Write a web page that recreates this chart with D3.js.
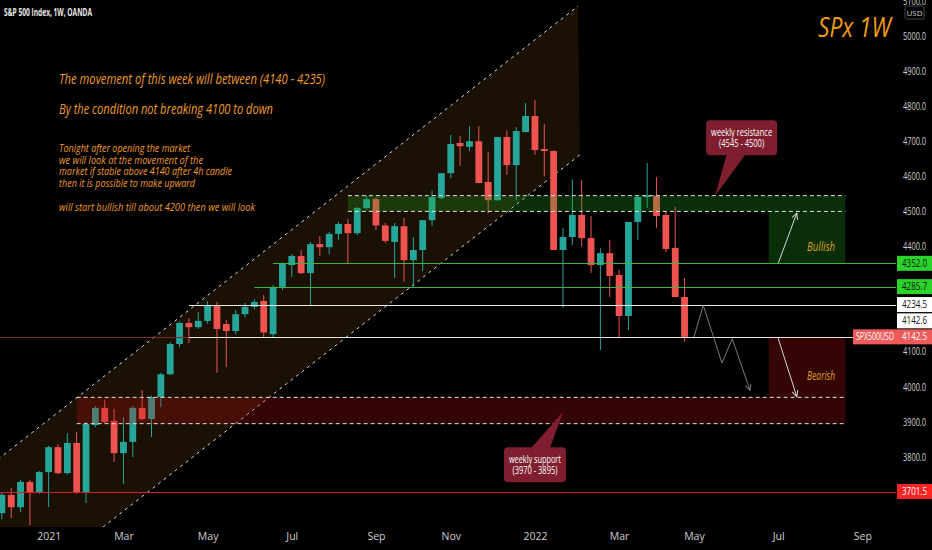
<!DOCTYPE html>
<html>
<head>
<meta charset="utf-8">
<script src="https://cdn.jsdelivr.net/npm/d3@7"></script>
<style>
  html, body { margin: 0; padding: 0; background: #000; }
  svg { display: block; }
</style>
</head>
<body>
<div id="chart"></div>
<script>
// weekly bars of SPX500USD, bar 0 = week of 30 Nov 2020
// [open, high, low, close]
const ohlc = [
  [3640, 3700, 3622, 3692], [3692, 3712, 3626, 3657], [3657, 3735, 3643, 3729], [3729, 3735, 3606, 3700],
  [3700, 3760, 3695, 3757], [3757, 3832, 3657, 3828], [3828, 3836, 3750, 3754], [3754, 3868, 3750, 3840],
  [3840, 3871, 3695, 3700], [3700, 3900, 3669, 3894], [3891, 3945, 3885, 3940], [3940, 3962, 3895, 3900],
  [3903, 3937, 3786, 3811], [3811, 3914, 3723, 3843], [3843, 3945, 3800, 3940], [3940, 3991, 3905, 3908],
  [3908, 3975, 3857, 3971], [3971, 4040, 3942, 4036], [4036, 4128, 4033, 4122], [4122, 4186, 4113, 4182],
  [4182, 4196, 4125, 4170], [4170, 4213, 4165, 4188], [4188, 4245, 4180, 4233], [4233, 4242, 4040, 4165],
  [4179, 4190, 4056, 4159], [4159, 4219, 4150, 4207], [4207, 4239, 4198, 4228], [4228, 4250, 4220, 4242],
  [4245, 4262, 4140, 4155], [4150, 4290, 4142, 4285], [4285, 4355, 4276, 4350], [4347, 4378, 4313, 4373],
  [4373, 4390, 4322, 4324], [4324, 4413, 4233, 4407], [4407, 4430, 4373, 4398], [4398, 4442, 4378, 4436],
  [4436, 4470, 4418, 4464], [4464, 4479, 4353, 4438], [4438, 4512, 4432, 4510], [4510, 4545, 4505, 4535],
  [4535, 4540, 4447, 4460], [4460, 4467, 4410, 4416], [4413, 4467, 4310, 4458], [4458, 4481, 4300, 4361],
  [4361, 4427, 4282, 4390], [4390, 4475, 4330, 4475], [4475, 4560, 4459, 4541], [4538, 4608, 4535, 4609],
  [4609, 4718, 4595, 4692], [4695, 4715, 4630, 4686], [4684, 4743, 4672, 4700], [4700, 4743, 4580, 4581],
  [4584, 4670, 4495, 4532], [4532, 4713, 4530, 4712], [4712, 4731, 4604, 4632], [4632, 4740, 4531, 4729],
  [4726, 4809, 4726, 4772], [4772, 4818, 4661, 4675], [4678, 4750, 4600, 4672], [4672, 4674, 4390, 4390],
  [4390, 4453, 4225, 4427], [4427, 4592, 4404, 4490], [4490, 4590, 4400, 4424], [4424, 4487, 4325, 4347],
  [4347, 4395, 4105, 4381], [4381, 4418, 4256, 4316], [4319, 4333, 4139, 4202], [4202, 4470, 4162, 4470],
  [4470, 4545, 4418, 4541], [4541, 4638, 4510, 4546], [4545, 4598, 4453, 4487], [4490, 4500, 4384, 4393],
  [4396, 4513, 4256, 4256], [4256, 4310, 4128, 4142.5],
];

const xTickWeeks = [5, 13, 22, 31, 40, 48, 57, 66, 74, 83, 92];
const xTickLabels = ['2021', 'Mar', 'May', 'Jul', 'Sep', 'Nov', '2022', 'Mar', 'May', 'Jul', 'Sep'];
const yTicks = [3800, 3900, 4000, 4100, 4400, 4500, 4600, 4700, 4800, 4900, 5000, 5100];

// rising channel rails, [week, price]
const channelUpper = [[-0.4, 3794], [61.6, 5085]];
const channelLower = [[-0.4, 3367], [61.8, 4661]];

// supply / demand zones and target boxes
const zones = [
  { top: 4545, bottom: 4500, from: 37, to: 90.2, kind: 'bull' },
  { top: 3970, bottom: 3895, from: 8, to: 90.2, kind: 'bear' },
];
const targets = [
  { label: 'Bullish', top: 4500, bottom: 4352, from: 82, to: 90.2, kind: 'bull', textAt: [87.6, 4387] },
  { label: 'Bearish', top: 4142.5, bottom: 3970, from: 82, to: 90.2, kind: 'bear', textAt: [87.6, 4019] },
];

// horizontal levels
const levels = [
  { value: 4352.0, from: 29, kind: 'green' },
  { value: 4285.7, from: 27, kind: 'green' },
  { value: 4234.5, from: 20, kind: 'white' },
  { value: 4142.6, from: 20, kind: 'white' },
  { value: 3701.5, from: -1, kind: 'red' },
];
const lastPrice = 4142.5;
const symbol = 'SPX500USD';

// expected path and direction arrows, [week, price]
const projection = [[74, 4142], [75, 4232], [77, 4068], [78.1, 4137], [80, 3990]];
const bullArrow = [[83, 4351], [85, 4495]];
const bearArrow = [[83, 4139], [85, 3972]];

const callouts = [
  { lines: ['weekly resistance', '(4545 - 4500)'], at: [79.1, 4710], tip: [76.25, 4544], side: 'below' },
  { lines: ['weekly support', '(3970 - 3895)'], at: [57.0, 3778], tip: [60.0, 3928], side: 'above' },
];

const headline = [
  'The movement of this week will between (4140 - 4235)',
  'By the condition not breaking 4100 to down',
];
const planLines = [
  'Tonight after opening the market',
  'we will look at the movement of the',
  'market if stable above 4140 after 4h candle',
  'then it is possible to make upward',
  '',
  'will start bullish till about 4200 then we will look',
];

const COLORS = {
  up: '#26a69a',
  down: '#ef5350',
  note: '#ee9a26',
  zone: { bull: 'rgba(34, 170, 34, 0.27)', bear: 'rgba(190, 18, 18, 0.28)' },
  level: { green: '#3fb24a', white: '#e6e6e6', red: '#d42020' },
  tag: { green: '#2bd42b', white: '#ffffff', red: '#ff2424' },
  axis: '#cfcfcf',
};

const NARROW = "'Liberation Sans Narrow', 'Open Sans', 'Noto Sans', sans-serif";

class WeeklyChart {
  constructor(selector) {
    this.selector = selector;
    this.width = 932;
    this.height = 550;
    this.plotW = 896;
    this.plotH = 527;
    this.barSpacing = 9.352;
    this.svg = null;
    this.scales = { x: null, y: null };
  }

  draw() {
    return this
      .setUpSVG()
      .setUpScales()
      .drawChannel()
      .drawCandles()
      .drawZones()
      .drawLevels()
      .drawProjection()
      .drawNotes()
      .drawCallouts()
      .drawAxes()
      .drawPriceTags();
  }

  setUpSVG() {
    this.svg = d3.select(this.selector)
      .append('svg')
      .attr('width', this.width)
      .attr('height', this.height)
      .style('background', '#000');

    const defs = this.svg.append('defs');
    defs.append('clipPath')
      .attr('id', 'plot-clip')
      .append('rect')
      .attr('width', this.plotW)
      .attr('height', this.plotH);

    [['arrow-grey', '#777'], ['arrow-light', '#d8d8d8']].forEach(([id, c]) => {
      defs.append('marker')
        .attr('id', id)
        .attr('viewBox', '0 0 8 8')
        .attr('refX', 7)
        .attr('refY', 4)
        .attr('markerWidth', 8)
        .attr('markerHeight', 8)
        .attr('markerUnits', 'userSpaceOnUse')
        .attr('orient', 'auto')
        .append('path')
        .attr('d', 'M1,1 L7,4 L1,7')
        .attr('fill', 'none')
        .attr('stroke', c)
        .attr('stroke-width', 1);
    });

    this.plot = this.svg.append('g').attr('clip-path', 'url(#plot-clip)');
    return this;
  }

  setUpScales() {
    this.scales.x = d3.scaleLinear()
      .domain([-0.2, 95.5])
      .range([0, 95.7 * this.barSpacing]);

    this.scales.y = d3.scaleLinear()
      .domain([3800, 5000])
      .range([457, 36]);

    return this;
  }

  pt([i, p]) {
    return [this.scales.x(i), this.scales.y(p)];
  }

  drawChannel() {
    const poly = [...channelUpper, ...channelLower.slice().reverse()].map((d) => this.pt(d));

    this.plot.append('path')
      .attr('d', `M${poly.join('L')}Z`)
      .attr('fill', 'rgba(255, 160, 40, 0.1)');

    this.plot.append('g')
      .selectAll('path')
      .data([channelUpper, channelLower])
      .join('path')
      .attr('d', (d) => d3.line()(d.map((p) => this.pt(p))))
      .attr('fill', 'none')
      .attr('stroke', '#dcdcdc')
      .attr('stroke-width', 1)
      .attr('stroke-dasharray', '3,4');

    return this;
  }

  drawCandles() {
    const { x, y } = this.scales;
    const bodyW = 6.8;

    const g = this.plot.append('g')
      .attr('class', 'candles')
      .selectAll('g')
      .data(ohlc)
      .join('g')
      .attr('fill', (d) => (d[3] >= d[0] ? COLORS.up : COLORS.down))
      .attr('stroke', (d) => (d[3] >= d[0] ? COLORS.up : COLORS.down));

    g.append('line')
      .attr('x1', (_, i) => x(i))
      .attr('x2', (_, i) => x(i))
      .attr('y1', (d) => y(d[1]))
      .attr('y2', (d) => y(d[2]))
      .attr('stroke-width', 1);

    g.append('rect')
      .attr('x', (_, i) => x(i) - bodyW / 2)
      .attr('width', bodyW)
      .attr('y', (d) => y(Math.max(d[0], d[3])))
      .attr('height', (d) => Math.max(1, Math.abs(y(d[0]) - y(d[3]))))
      .attr('stroke', 'none');

    return this;
  }

  drawZones() {
    const { x, y } = this.scales;

    const boxes = this.plot.append('g').attr('class', 'zones');

    boxes.selectAll('rect.zone')
      .data([...zones, ...targets])
      .join('rect')
      .attr('class', 'zone')
      .attr('x', (d) => x(d.from))
      .attr('width', (d) => x(d.to) - x(d.from))
      .attr('y', (d) => y(d.top))
      .attr('height', (d) => y(d.bottom) - y(d.top))
      .attr('fill', (d) => COLORS.zone[d.kind]);

    boxes.selectAll('path.edge')
      .data(zones.flatMap((d) => [{ ...d, v: d.top }, { ...d, v: d.bottom }]))
      .join('path')
      .attr('class', 'edge')
      .attr('d', (d) => `M${x(d.from)},${y(d.v)}H${x(d.to)}`)
      .attr('stroke', '#e0e0e0')
      .attr('stroke-width', 1)
      .attr('stroke-dasharray', '4,3');

    boxes.selectAll('text')
      .data(targets)
      .join('text')
      .attr('x', (d) => x(d.textAt[0]))
      .attr('y', (d) => y(d.textAt[1]))
      .attr('text-anchor', 'middle')
      .attr('fill', '#dca21c')
      .attr('font-family', NARROW)
      .attr('font-style', 'italic')
      .attr('font-size', 12)
      .attr('textLength', 28)
      .attr('lengthAdjust', 'spacingAndGlyphs')
      .text((d) => d.label);

    boxes.selectAll('path.dir')
      .data([{ pts: bullArrow }, { pts: bearArrow }])
      .join('path')
      .attr('class', 'dir')
      .attr('d', (d) => d3.line()(d.pts.map((p) => this.pt(p))))
      .attr('fill', 'none')
      .attr('stroke', '#d8d8d8')
      .attr('stroke-width', 1)
      .attr('marker-end', 'url(#arrow-light)');

    return this;
  }

  drawLevels() {
    const { x, y } = this.scales;

    this.plot.append('line')
      .attr('x1', 0)
      .attr('x2', this.plotW)
      .attr('y1', Math.round(y(lastPrice)) + 0.5)
      .attr('y2', Math.round(y(lastPrice)) + 0.5)
      .attr('stroke', '#7a2b2b')
      .attr('stroke-width', 1);

    this.plot.append('g')
      .selectAll('line')
      .data(levels)
      .join('line')
      .attr('x1', (d) => Math.max(0, x(d.from)))
      .attr('x2', this.plotW)
      .attr('y1', (d) => Math.round(y(d.value)) + 0.5)
      .attr('y2', (d) => Math.round(y(d.value)) + 0.5)
      .attr('stroke', (d) => COLORS.level[d.kind])
      .attr('stroke-width', 1);

    return this;
  }

  drawProjection() {
    this.plot.append('path')
      .attr('d', d3.line()(projection.map((p) => this.pt(p))))
      .attr('fill', 'none')
      .attr('stroke', '#7a7a7a')
      .attr('stroke-width', 1)
      .attr('marker-end', 'url(#arrow-grey)');

    return this;
  }

  fitText(sel, width) {
    return sel
      .attr('textLength', width)
      .attr('lengthAdjust', 'spacingAndGlyphs');
  }

  drawNotes() {
    const notes = this.svg.append('g')
      .attr('fill', COLORS.note)
      .attr('font-family', NARROW)
      .attr('font-style', 'italic');

    const headWidths = [266, 214];
    notes.selectAll('text.head')
      .data(headline)
      .join('text')
      .attr('class', 'head')
      .attr('x', 59)
      .attr('y', (_, i) => 84 + i * 30)
      .attr('font-size', 14)
      .text((d) => d)
      .each((d, i, n) => this.fitText(d3.select(n[i]), headWidths[i]));

    const planWidths = [131, 144, 173, 136, 0, 196];
    notes.selectAll('text.plan')
      .data(planLines)
      .join('text')
      .attr('class', 'plan')
      .attr('x', 59)
      .attr('y', (_, i) => 152 + i * 11.7)
      .attr('font-size', 10.5)
      .text((d) => d)
      .each((d, i, n) => { if (d) this.fitText(d3.select(n[i]), planWidths[i]); });

    this.fitText(
      this.svg.append('text')
        .attr('x', 818)
        .attr('y', 37)
        .attr('fill', '#f39c12')
        .attr('font-family', NARROW)
        .attr('font-style', 'italic')
        .attr('font-size', 28)
        .text('SPx 1W'),
      73,
    );

    this.fitText(
      this.svg.append('text')
        .attr('x', 4)
        .attr('y', 15.5)
        .attr('fill', '#e8e8e8')
        .attr('font-family', NARROW)
        .attr('font-weight', 'bold')
        .attr('font-size', 10)
        .text('S&P 500 Index, 1W, OANDA'),
      88,
    );

    return this;
  }

  drawCallouts() {
    const bw = 68;
    const bh = 35;

    const g = this.svg.append('g')
      .selectAll('g')
      .data(callouts)
      .join('g');

    g.append('path')
      .attr('fill', '#7e1e2e')
      .attr('d', (d) => {
        const [cx, cy] = this.pt(d.at);
        const [tx, ty] = this.pt(d.tip);
        const p = d3.path();
        const edge = d.side === 'below' ? cy + bh / 2 - 1 : cy - bh / 2 + 1;
        const b0 = d.side === 'below' ? cx - 15 : cx - 4;
        p.moveTo(b0, edge);
        p.lineTo(tx, ty);
        p.lineTo(b0 + 19, edge);
        p.closePath();
        return p.toString();
      });

    g.append('rect')
      .attr('x', (d) => this.pt(d.at)[0] - (d.side === 'below' ? bw + 3 : bw - 6) / 2)
      .attr('y', (d) => this.pt(d.at)[1] - bh / 2)
      .attr('width', (d) => (d.side === 'below' ? bw + 3 : bw - 6))
      .attr('height', bh)
      .attr('rx', 4)
      .attr('fill', '#7e1e2e');

    g.selectAll('text')
      .data((d) => d.lines.map((t, i) => ({ t, i, c: this.pt(d.at), big: d.side === 'below' })))
      .join('text')
      .attr('x', (d) => d.c[0])
      .attr('y', (d) => d.c[1] - 1.5 + d.i * 11)
      .attr('text-anchor', 'middle')
      .attr('fill', '#fff')
      .attr('font-family', NARROW)
      .attr('font-size', 10)
      .text((d) => d.t)
      .each((d, i, n) => {
        const w = d.i === 0 ? (d.big ? 61 : 52) : 45;
        this.fitText(d3.select(n[i]), w);
      });

    return this;
  }

  drawAxes() {
    const { x, y } = this.scales;

    this.svg.append('g')
      .attr('class', 'axis axis-x')
      .attr('transform', `translate(0,${this.plotH})`)
      .call(d3.axisBottom(x)
        .tickValues(xTickWeeks)
        .tickFormat((_, i) => xTickLabels[i])
        .tickSize(0)
        .tickPadding(6))
      .call((g) => g.select('.domain').remove())
      .selectAll('text')
      .attr('fill', COLORS.axis)
      .attr('font-family', NARROW)
      .attr('font-size', 10.5);

    this.svg.append('g')
      .attr('class', 'axis axis-y')
      .attr('transform', 'translate(926,0)')
      .call(d3.axisRight(y)
        .tickValues(yTicks)
        .tickFormat(d3.format('.1f'))
        .tickSize(0)
        .tickPadding(0))
      .call((g) => g.select('.domain').remove())
      .selectAll('text')
      .attr('text-anchor', 'end')
      .attr('fill', COLORS.axis)
      .attr('font-family', NARROW)
      .attr('font-size', 10)
      .attr('textLength', 23)
      .attr('lengthAdjust', 'spacingAndGlyphs');

    const usd = this.svg.append('g').attr('transform', 'translate(905,6)');
    usd.append('rect')
      .attr('width', 19)
      .attr('height', 13)
      .attr('rx', 2)
      .attr('fill', '#000')
      .attr('stroke', '#444');
    usd.append('text')
      .attr('x', 9.5)
      .attr('y', 9.8)
      .attr('text-anchor', 'middle')
      .attr('fill', COLORS.axis)
      .attr('font-family', NARROW)
      .attr('font-size', 8)
      .text('USD');

    return this;
  }

  drawPriceTags() {
    const { y } = this.scales;
    const tagH = 15;

    const tags = [
      ...levels.map((d) => ({ value: d.value, bg: COLORS.tag[d.kind], fg: d.kind === 'red' ? '#fff' : '#111' })),
      { value: lastPrice, bg: '#ef5a5a', fg: '#fff', name: symbol },
    ].map((d) => ({ ...d, cy: y(d.value) }))
      .sort((a, b) => d3.descending(a.cy, b.cy) || (a.name ? -1 : 1));

    // push overlapping tags upward
    tags.forEach((d, i) => {
      if (i > 0 && tags[i - 1].cy - d.cy < tagH + 1) d.cy = tags[i - 1].cy - tagH - 1;
    });

    const g = this.svg.append('g')
      .selectAll('g')
      .data(tags)
      .join('g')
      .attr('transform', (d) => `translate(0,${d.cy})`);

    g.append('rect')
      .attr('x', 897)
      .attr('y', -tagH / 2)
      .attr('width', 35)
      .attr('height', tagH)
      .attr('fill', (d) => d.bg);

    g.append('text')
      .attr('x', 914.5)
      .attr('dy', '0.35em')
      .attr('text-anchor', 'middle')
      .attr('fill', (d) => d.fg)
      .attr('font-family', NARROW)
      .attr('font-size', 10)
      .attr('textLength', 25)
      .attr('lengthAdjust', 'spacingAndGlyphs')
      .text((d) => d3.format('.1f')(d.value));

    const named = g.filter((d) => d.name);
    named.append('rect')
      .attr('x', 853)
      .attr('y', -tagH / 2)
      .attr('width', 44)
      .attr('height', tagH)
      .attr('fill', (d) => d.bg);
    named.append('text')
      .attr('x', 875)
      .attr('dy', '0.35em')
      .attr('text-anchor', 'middle')
      .attr('fill', '#fff')
      .attr('font-family', NARROW)
      .attr('font-size', 10)
      .attr('textLength', 38)
      .attr('lengthAdjust', 'spacingAndGlyphs')
      .text((d) => d.name);

    return this;
  }
}

new WeeklyChart('#chart').draw();
</script>
</body>
</html>
